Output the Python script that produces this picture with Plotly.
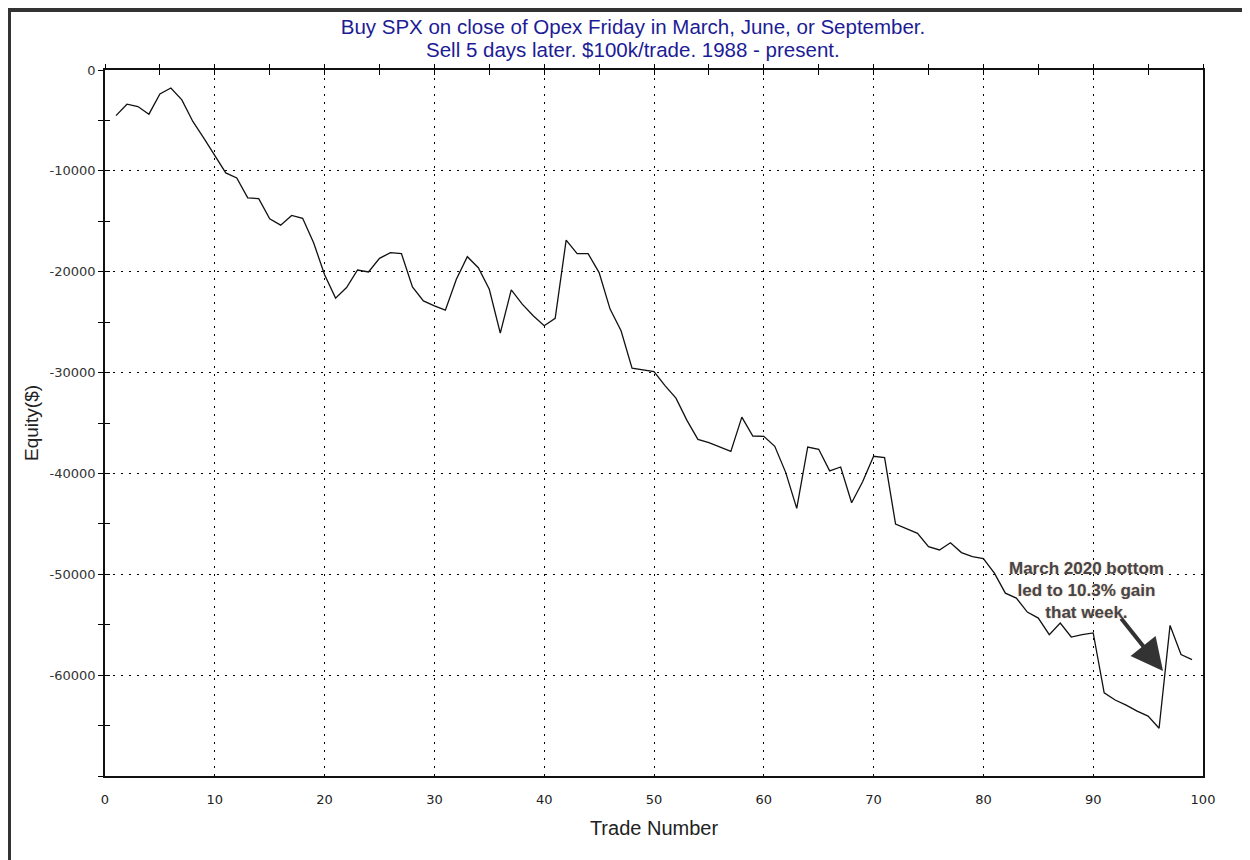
import plotly.graph_objects as go

trades = list(range(1, 100))
equity = [
    -4520, -3390, -3620, -4380, -2370, -1780, -2960, -5100, -6750, -8500,
    -10200, -10700, -12680, -12750, -14750, -15380, -14420, -14700, -17130, -20300,
    -22620, -21570, -19830, -20020, -18670, -18110, -18210, -21500, -22890, -23380,
    -23810, -20750, -18510, -19600, -21740, -26080, -21800, -23220, -24370, -25360,
    -24630, -16860, -18210, -18210, -20090, -23710, -25850, -29570, -29740, -29900,
    -31290, -32540, -34740, -36620, -36950, -37380, -37810, -34420, -36290, -36320,
    -37310, -39920, -43470, -37380, -37610, -39750, -39360, -42910, -40830, -38300,
    -38440, -45020, -45510, -45940, -47260, -47590, -46870, -47850, -48250, -48440,
    -49890, -51870, -52360, -53750, -54340, -55990, -54830, -56220, -55990, -55820,
    -61750, -62470, -62970, -63560, -64060, -65270, -55070, -57960, -58460,
]

x_ticks = list(range(0, 101, 10))
y_ticks = list(range(-60000, 1, 10000))

title_line1 = "Buy SPX on close of Opex Friday in March, June, or September."
title_line2 = "Sell 5 days later. $100k/trade. 1988 - present."
note_text = "March 2020 bottom<br>led to 10.3% gain<br>that week."
note_pos = (89.4, -48300)
arrow_head = (96.36, -59590)
arrow_tail = (92.44, -54235)

FONT = "Liberation Sans, Arial, sans-serif"
TICKFONT = "DejaVu Sans, Verdana, sans-serif"
TITLE_COLOR = "#1c1c96"

W, H = 1242, 852  # page adds an 8px body margin
ML, MR, MT, MB = 97, 47, 62, 84
pw = W - ML - MR
ph = H - MT - MB

fig = go.Figure()
fig.add_trace(go.Scatter(x=trades, y=equity, mode="lines",
                         line=dict(color="#111111", width=1.3),
                         showlegend=False, hoverinfo="x+y"))
# transparent copies so the overlay tick axes are drawn
fig.add_trace(go.Scatter(x=trades, y=equity, mode="lines", xaxis="x2", yaxis="y2",
                         line=dict(color="rgba(0,0,0,0)", width=0),
                         showlegend=False, hoverinfo="skip"))
fig.add_trace(go.Scatter(x=trades, y=equity, mode="lines", xaxis="x3", yaxis="y2",
                         line=dict(color="rgba(0,0,0,0)", width=0),
                         showlegend=False, hoverinfo="skip"))

grid = dict(showgrid=True, gridcolor="#000000", gridwidth=1, griddash="2px,6px")

fig.update_layout(
    width=W, height=H,
    paper_bgcolor="white", plot_bgcolor="white",
    margin=dict(l=ML, r=MR, t=MT, b=MB),
    font=dict(family=FONT, color="#222222"),
    title=dict(text=title_line1, x=(625) / W, xanchor="center", xref="container",
               y=1 - 19 / H, yanchor="middle", yref="container",
               font=dict(size=20.5, color=TITLE_COLOR, family=FONT)),
    xaxis=dict(range=[0, 100], tickmode="array", tickvals=x_ticks,
               ticktext=[str(v) for v in x_ticks],
               ticks="", showline=True, linecolor="#111111", linewidth=2,
               mirror=True, zeroline=False, ticklabelstandoff=10,
               tickfont=dict(size=13, color="#222222", family=TICKFONT),
               title=dict(text="Trade Number", standoff=15,
                          font=dict(size=20, color="#222222")),
               **grid),
    xaxis2=dict(range=[0, 100], overlaying="x", side="top", anchor="y",
                tickmode="linear", tick0=0, dtick=5, ticks="outside", ticklen=5,
                tickcolor="#000000", tickwidth=1, showticklabels=False,
                showgrid=False, showline=False, zeroline=False),
    xaxis3=dict(range=[0, 100], overlaying="x", side="top", anchor="y",
                tickmode="linear", tick0=0, dtick=5, ticks="inside", ticklen=5,
                tickcolor="#000000", tickwidth=1, showticklabels=False,
                showgrid=False, showline=False, zeroline=False),
    yaxis=dict(range=[-70000, 0], tickmode="array", tickvals=y_ticks,
               ticktext=[str(v) for v in y_ticks],
               ticks="outside", ticklen=5, tickcolor="#000000", tickwidth=1,
               minor=dict(dtick=5000, tick0=0, ticks="outside", ticklen=5,
                          tickcolor="#000000", showgrid=False),
               showline=True, linecolor="#111111", linewidth=1.5, mirror=True,
               zeroline=False,
               tickfont=dict(size=13, color="#333333", family=TICKFONT),
               title=dict(text="Equity($)", standoff=6,
                          font=dict(size=19, color="#222222")),
               **grid),
    yaxis2=dict(range=[-70000, 0], overlaying="y", side="left", anchor="x",
                tickmode="linear", tick0=0, dtick=5000, ticks="inside", ticklen=5,
                tickcolor="#000000", tickwidth=1, showticklabels=False,
                showgrid=False, showline=False, zeroline=False),
)

# second title line
fig.add_annotation(x=(625 - ML) / pw, y=(ph + MT - 42) / ph, xref="paper", yref="paper",
                   text=title_line2, showarrow=False, xanchor="center", yanchor="middle",
                   font=dict(size=20.5, color=TITLE_COLOR, family=FONT))

fig.add_annotation(x=note_pos[0], y=note_pos[1], xref="x", yref="y",
                   text="<b>" + note_text + "</b>", showarrow=False,
                   align="center", xanchor="center", yanchor="top",
                   font=dict(size=17, color="#45454f", family=FONT,
                             shadow="0px 0px 2px #e8c89a"))
fig.add_annotation(x=arrow_head[0], y=arrow_head[1], xref="x", yref="y",
                   ax=arrow_tail[0], ay=arrow_tail[1], axref="x", ayref="y",
                   text="", showarrow=True, arrowhead=2, arrowsize=1.6,
                   arrowwidth=4, arrowcolor="#333333", standoff=0)

# outer frame of the picture (top band and left bar)
fig.add_shape(type="rect", xref="paper", yref="paper",
              x0=-ML / pw, x1=(W - ML) / pw,
              y0=(ph + MT - 4) / ph, y1=(ph + MT) / ph,
              fillcolor="#333333", line=dict(width=0), layer="above")
fig.add_shape(type="rect", xref="paper", yref="paper",
              x0=-ML / pw, x1=(3 - ML) / pw, y0=-MB / ph, y1=(ph + MT) / ph,
              fillcolor="#333333", line=dict(width=0), layer="above")

fig.write_html("out.html")
